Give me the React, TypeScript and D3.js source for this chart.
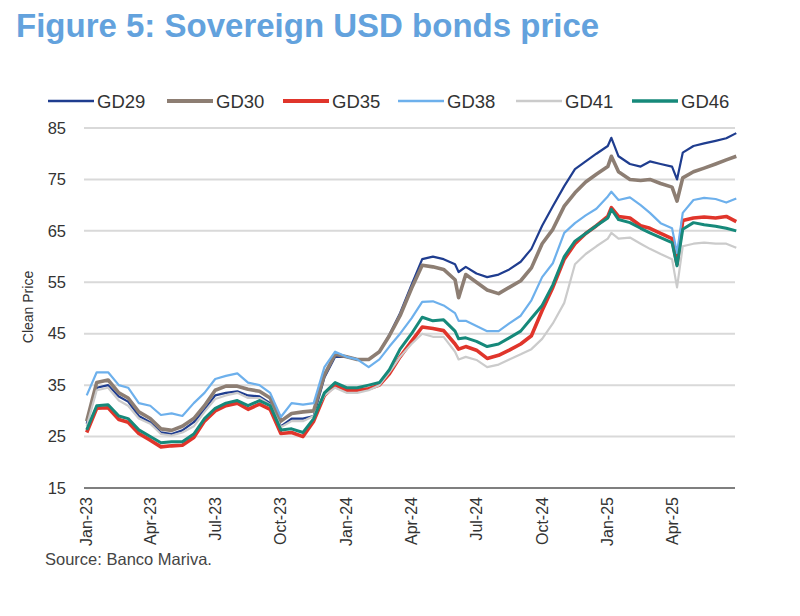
import React from "react";
import * as d3 from "d3";

const dates: string[] = [
  "2023-01-02","2023-01-16","2023-02-01","2023-02-16","2023-03-01","2023-03-16","2023-04-01","2023-04-16",
  "2023-05-01","2023-05-16","2023-06-01","2023-06-16","2023-07-01","2023-07-16","2023-08-01","2023-08-16",
  "2023-09-01","2023-09-16","2023-10-01","2023-10-16","2023-11-01","2023-11-16","2023-12-01","2023-12-16",
  "2024-01-01","2024-01-16","2024-02-01","2024-02-16","2024-03-01","2024-03-16","2024-04-01","2024-04-16",
  "2024-05-01","2024-05-16","2024-06-01","2024-06-06","2024-06-16","2024-07-01","2024-07-16","2024-08-01",
  "2024-08-16","2024-09-01","2024-09-16","2024-10-01","2024-10-16","2024-11-01","2024-11-16","2024-12-01",
  "2024-12-16",
  "2025-01-01","2025-01-06","2025-01-16","2025-02-01","2025-02-16","2025-03-01","2025-03-16","2025-04-01",
  "2025-04-08","2025-04-16","2025-05-01","2025-05-16","2025-06-01","2025-06-16","2025-06-30",
];

const gd29: number[] = [
  27.5, 34.5, 35, 32.8, 31.8, 29, 27.8, 25.8, 25.5, 26.2, 27.8, 30.2, 33, 33.5, 33.8, 33, 32.8, 31.5, 27, 28.5, 28.5, 29, 36.5, 40.5,
  40.5, 40, 40, 41.5, 44.8, 49, 54.5, 59.5, 60, 59.5, 58.5, 57, 58, 56.7, 56, 56.5, 57.5, 59, 61.5, 66, 69.8, 73.7, 77, 78.5, 80,
  81.5, 83.1, 79.5, 78, 77.5, 78.5, 78, 77.5, 75, 80.2, 81.5, 82, 82.5, 83, 84,
];
const gd30: number[] = [
  28, 35.5, 36, 33.5, 32.5, 29.8, 28.5, 26.5, 26.2, 27, 28.5, 31, 34, 34.8, 34.8, 34.2, 33.8, 32.5, 28, 29.5, 29.8, 30, 37, 41,
  40.5, 40, 40, 41.5, 44.6, 48.5, 53.8, 58.3, 58, 57.5, 55.5, 52, 56.5, 55, 53.5, 52.8, 54, 55.3, 57.8, 62.5, 65.3, 69.8, 72.4, 74.5, 76,
  77.5, 79.5, 76.5, 75, 74.8, 75, 74.2, 73.5, 70.8, 75.3, 76.5, 77.2, 78, 78.8, 79.5,
];
const gd35: number[] = [
  25.8, 30.5, 30.6, 28.3, 27.8, 25.6, 24.3, 23, 23.2, 23.3, 24.8, 28, 30, 31, 31.5, 30.3, 31.3, 30.3, 25.6, 25.8, 25, 28, 33, 35,
  34, 34, 34.3, 35, 37.2, 40.5, 43.5, 46.3, 46, 45.6, 43, 42, 42.5, 41.8, 40.2, 40.8, 41.8, 43, 44.6, 49.5, 54, 59.5, 62.5, 64.5, 66,
  67.8, 69.5, 67.8, 67.5, 66, 65.5, 64.5, 63.5, 58.5, 67, 67.5, 67.7, 67.5, 67.8, 66.8,
];
const gd38: number[] = [
  33, 37.5, 37.5, 35, 34.5, 31.5, 31, 29.2, 29.5, 29, 31.5, 33.5, 36.2, 36.8, 37.3, 35.5, 35, 33.5, 28.8, 31.5, 31.2, 31.5, 38.5, 41.5,
  40.5, 40, 38.5, 40, 42.5, 45, 48, 51.2, 51.3, 50.5, 49, 47.5, 47.5, 46.5, 45.5, 45.5, 47, 48.5, 51.5, 56, 58.7, 64.6, 66.5, 68, 69.3,
  71.7, 72.6, 71, 71.5, 70, 68.5, 66.5, 65.5, 60.7, 68.5, 71, 71.4, 71.2, 70.5, 71.3,
];
const gd41: number[] = [
  27, 34, 34.5, 32, 31, 28.5, 27.5, 25.5, 25.2, 25.8, 27, 29.8, 32.3, 33, 33.5, 32.5, 32.5, 31.2, 26.8, 28, 28, 29, 33, 34.5,
  33.5, 33.5, 34, 35, 37.5, 40.5, 43, 45, 44.4, 44.4, 41.5, 40, 40.5, 39.9, 38.5, 39, 40, 41, 42, 44, 47, 51, 58.5, 60.5, 62,
  63.5, 64.6, 63.5, 63.7, 62.5, 61.5, 60.5, 59.5, 54, 62, 62.5, 62.7, 62.5, 62.5, 61.7,
];
const gd46: number[] = [
  26.3, 31, 31.2, 29, 28.5, 26.3, 25, 23.8, 24, 24, 25.5, 28.5, 30.5, 31.5, 32, 31, 32, 31, 26.3, 26.5, 25.8, 28.5, 33.5, 35.5,
  34.5, 34.5, 35, 35.5, 38, 42, 45, 48.2, 47.5, 47.7, 45.5, 44, 44.2, 43.5, 42.5, 43, 44.2, 45.5, 48, 50.5, 54.5, 60, 63, 64.5, 66,
  67.5, 69.2, 67.2, 66.6, 65.5, 64.6, 63.7, 62.7, 58.2, 65.3, 66.6, 66.2, 65.9, 65.5, 65,
];

const seriesNames: string[] = ["GD29", "GD30", "GD35", "GD38", "GD41", "GD46"];
const seriesValues: number[][] = [gd29, gd30, gd35, gd38, gd41, gd46];
const seriesColors: string[] = ["#1f3d8f", "#8d7e73", "#e0352b", "#6db0ec", "#cbcbcb", "#16897a"];
const seriesWidths: number[] = [2.2, 3.6, 3.6, 2.2, 2.2, 3];

const yTicks: number[] = [15, 25, 35, 45, 55, 65, 75, 85];
const xTickDates: string[] = [
  "2023-01-01","2023-04-01","2023-07-01","2023-10-01","2024-01-01",
  "2024-04-01","2024-07-01","2024-10-01","2025-01-01","2025-04-01",
];
const xTickLabels: string[] = [
  "Jan-23","Apr-23","Jul-23","Oct-23","Jan-24","Apr-24","Jul-24","Oct-24","Jan-25","Apr-25",
];

const legendX: number[] = [48, 167, 283, 398, 516, 632];

const FONT = "'Liberation Sans', Arial, sans-serif";

export default function App() {
  const parse = d3.timeParse("%Y-%m-%d");
  const parsed = dates.map((d) => parse(d) as Date);
  const left = 84;
  const right = 735;
  const top = 128;
  const bottom = 488;

  const x = d3
    .scaleTime()
    .domain([parse("2023-01-01") as Date, parse("2025-07-01") as Date])
    .range([86, 737]);
  const y = d3.scaleLinear().domain([15, 85]).range([bottom, top]);

  const line = (vals: number[]) =>
    d3
      .line<number>()
      .x((_, i) => x(parsed[i]))
      .y((v) => y(v))(vals) || "";

  return (
    <svg
      width={800}
      height={616}
      style={{ position: "absolute", left: 0, top: 0, background: "#fff" }}
      fontFamily={FONT}
    >
      <rect width={800} height={616} fill="#fff" />
      <text x={16} y={37} fontSize={33} fontWeight="bold" fill="#63a2dd">
        Figure 5: Sovereign USD bonds price
      </text>

      {/* legend */}
      {seriesNames.map((n, i) => (
        <g key={n}>
          <line
            x1={legendX[i]}
            x2={legendX[i] + 46}
            y1={101}
            y2={101}
            stroke={seriesColors[i]}
            strokeWidth={seriesWidths[i] + 0.4}
          />
          <text x={legendX[i] + 49} y={107.5} fontSize={18.5} fill="#333">
            {n}
          </text>
        </g>
      ))}

      {/* grid */}
      {yTicks.map((t) => (
        <g key={t}>
          {t !== 15 && (
            <line x1={left} x2={right} y1={y(t)} y2={y(t)} stroke="#d9d9d9" strokeWidth={2} />
          )}
          <text x={66} y={y(t)} dy="0.35em" textAnchor="end" fontSize={16.5} fill="#333">
            {t}
          </text>
        </g>
      ))}

      {/* series */}
      {seriesValues.map((vals, i) => (
        <path
          key={seriesNames[i]}
          d={line(vals)}
          fill="none"
          stroke={seriesColors[i]}
          strokeWidth={seriesWidths[i]}
          strokeLinejoin="round"
        />
      ))}

      {/* x axis */}
      <line x1={left} x2={right} y1={bottom} y2={bottom} stroke="#7f7f7f" strokeWidth={2} />
      {xTickDates.map((d, i) => {
        const xx = x(parse(d) as Date);
        return (
          <text
            key={d}
            transform={`translate(${xx},${497}) rotate(-90)`}
            textAnchor="end"
            dy="0.35em"
            fontSize={16}
            fill="#333"
          >
            {xTickLabels[i]}
          </text>
        );
      })}

      <text
        transform={`translate(${28},${307}) rotate(-90)`}
        textAnchor="middle"
        dy="0.35em"
        fontSize={14}
        fill="#333"
      >
        Clean Price
      </text>

      <text x={45} y={565} fontSize={16.5} fill="#444">
        Source: Banco Mariva.
      </text>
    </svg>
  );
}
